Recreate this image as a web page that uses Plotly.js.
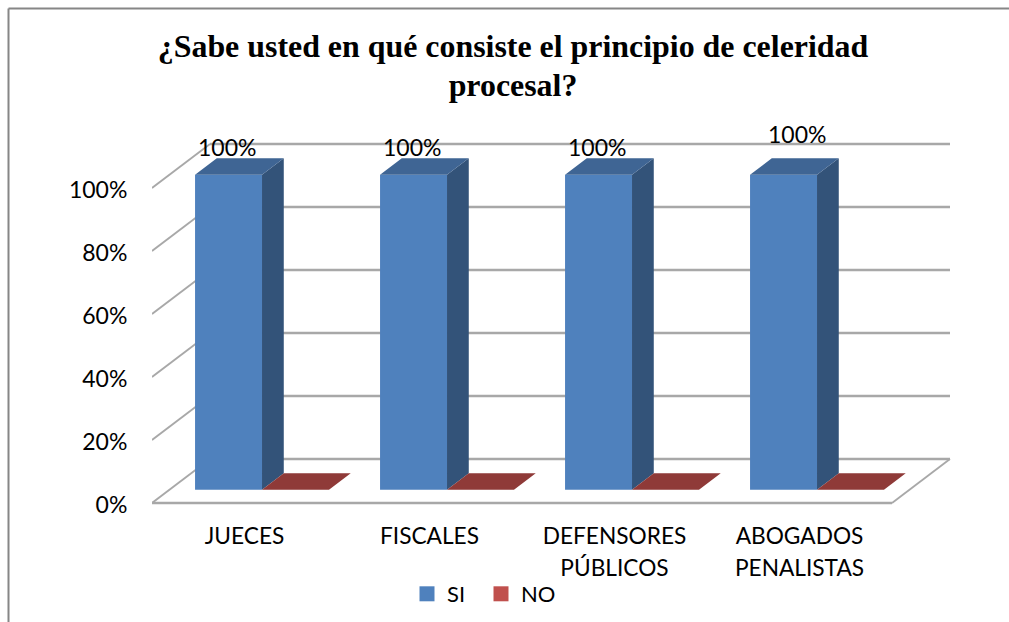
<!DOCTYPE html>
<html><head><meta charset="utf-8">
<script src="https://cdn.plot.ly/plotly-3.0.1.min.js"></script>
<style>html,body{margin:0;padding:0;background:#fff}</style></head>
<body><div id="chart" style="width:1009px;height:622px"></div>
<script>
const categories = ['JUECES','FISCALES','DEFENSORES<br>PÚBLICOS','ABOGADOS<br>PENALISTAS'];
const seriesNames = ['SI','NO'];
const siValues = [100,100,100,100];
const noValues = [0,0,0,0];
const yTicks = [0,20,40,60,80,100];
const frontColors = ['#4F81BD','#C0504D'];
const topColors = ['#3F6594','#8F3A38'];
const sideColors = ['#335379','#7A302E'];

// pseudo-3D projection (depth d: 0 = front of floor, 1 = back wall), axis units
const W = 1009, H = 622, mL = 152, mR = 58, mT = 130, mB = 112;
const uX = 185, uY = 3.15;
const dxU = 58/uX, dyU = 44/uY;
const gap = 0.138, barW = 0.362, dFront = 0.302, dBack = 0.677;
const xMax = (W-mL-mR)/uX;
const yMin = -7/uY, yMax = 373/uY;
const nCat = categories.length;
const gridColor = '#A8A8A8';

const pos = (u, v, d) => [u + d*dxU, v + d*dyU];
const polys = (fn) => {
  const xs = [], ys = [];
  categories.forEach((_, i) => { fn(i).forEach(p => { xs.push(p[0]); ys.push(p[1]); });
    xs.push(null); ys.push(null); });
  return {x: xs, y: ys};
};
const traces = [];
[siValues, noValues].forEach((vals, s) => {
  traces.push({type:'bar', x: categories.map((_,i)=>i), y: vals, base: dFront*dyU,
    width: barW, offset: gap + s*barW + dFront*dxU,
    marker:{color: frontColors[s], line:{width:0}}, name: seriesNames[s], showlegend:false, hoverinfo:'skip'});
});
[siValues, noValues].forEach((vals, s) => {
  const xl = i => i + gap + s*barW, xr = i => xl(i) + barW;
  const side = polys(i => [pos(xr(i),0,dFront),pos(xr(i),vals[i],dFront),pos(xr(i),vals[i],dBack),pos(xr(i),0,dBack),pos(xr(i),0,dFront)]);
  const top = polys(i => [pos(xl(i),vals[i],dFront),pos(xr(i),vals[i],dFront),pos(xr(i),vals[i],dBack),pos(xl(i),vals[i],dBack),pos(xl(i),vals[i],dFront)]);
  traces.push({type:'scatter', mode:'none', x: side.x, y: side.y, fill:'toself', fillcolor: sideColors[s], showlegend:false, hoverinfo:'skip'});
  traces.push({type:'scatter', mode:'none', x: top.x, y: top.y, fill:'toself', fillcolor: topColors[s], showlegend:false, hoverinfo:'skip'});
});
seriesNames.forEach((n, s) => {
  traces.push({type:'scatter', mode:'markers', x:[null], y:[null], name:n,
    marker:{symbol:'square', size:15, color: frontColors[s]}, hoverinfo:'skip'});
});

const shapes = [];
const seg = (a, b, w) => shapes.push({type:'line', layer:'below', xref:'x', yref:'y',
  x0:a[0], y0:a[1], x1:b[0], y1:b[1], line:{color:gridColor, width:w}});
yTicks.forEach(v => {
  seg(pos(0,v,0), pos(0,v,1), 1.8);
  seg(pos(0,v,1), pos(nCat,v,1), 2.4);
});
seg(pos(0,0,0), pos(nCat,0,0), 2.4);
seg(pos(nCat,0,0), pos(nCat,0,1), 1.8);
const pxX = p => (p-mL)/(W-mL-mR), pxY = p => 1-(p-mT)/(H-mT-mB);
[[8.5,8.5,8.5,622],[8.5,8.5,1009,8.5]].forEach(b => shapes.push({type:'line', xref:'paper', yref:'paper',
  x0:pxX(b[0]), y0:pxY(b[1]), x1:pxX(b[2]), y1:pxY(b[3]), line:{color:'#868686', width:2}}));

const numFont = {family:'Lato, "Open Sans", sans-serif', size:23, color:'#000'};
const annotations = siValues.map((v,i) => {
  const last = i === nCat-1;
  const p = pos(i+gap+barW/2, v, dBack);
  return {x:p[0], y:p[1], xref:'x', yref:'y', text:v+'%', showarrow:false, font:numFont,
    xanchor:'center', yanchor:'middle', xshift: last ? -8 : -23, yshift: last ? 24 : 11.5};
});

Plotly.newPlot('chart', traces, {
  width:W, height:H, paper_bgcolor:'#fff', plot_bgcolor:'rgba(0,0,0,0)',
  margin:{l:mL, r:mR, t:mT, b:mB},
  title:{text:'<span style="font-size:31.9px">¿Sabe usted en qué consiste el principio de celeridad</span><br><span style="font-size:31.9px">procesal?</span>',
    font:{family:'"Liberation Serif", serif', size:30, color:'#000', weight:'bold'},
    x:513/W, xanchor:'center', xref:'container', y:0.908, yanchor:'top', yref:'container'},
  showlegend:true,
  legend:{orientation:'h', x:407/W, y:1-573/H, xref:'container', yref:'container', xanchor:'left', yanchor:'top',
    entrywidth:29, entrywidthmode:'pixels',
    font:{family:numFont.family, size:22, color:'#000'}, bgcolor:'rgba(0,0,0,0)'},
  xaxis:{range:[0,xMax], showgrid:false, zeroline:false, showline:false,
    tickmode:'array', tickvals:categories.map((_,i)=>i+0.5),
    ticktext:categories.map(c=>'<span style="font-size:22.7px">'+c.replace('<br>','</span><br><span style="font-size:22.7px">')+'</span>'),
    ticks:'outside', ticklen:3, tickcolor:'rgba(0,0,0,0)', tickangle:0,
    tickfont:{family:numFont.family, size:24.6, color:'#000'}},
  yaxis:{range:[yMin,yMax], showgrid:false, zeroline:false, showline:false,
    tickmode:'array', tickvals:yTicks, ticktext:yTicks.map(v=>v+'%'),
    ticks:'outside', ticklen:19, tickcolor:'rgba(0,0,0,0)', tickfont:numFont, ticklabelshift:2},
  shapes, annotations, hovermode:false
}, {displayModeBar:false, staticPlot:true});
</script></body></html>
